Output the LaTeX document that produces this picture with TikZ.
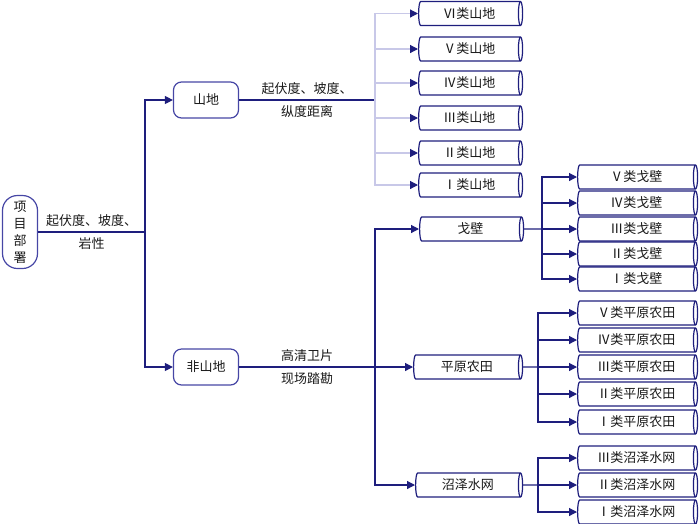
\documentclass[tikz,border=0pt]{standalone}
\usepackage{fontspec}
\setmainfont{Noto Sans CJK SC}
\usetikzlibrary{shapes.geometric,arrows.meta}
\definecolor{navyline}{RGB}{30,30,125}
\definecolor{paleline}{RGB}{200,200,232}
\definecolor{boxedge}{RGB}{70,70,165}
\definecolor{txt}{RGB}{25,25,25}
\tikzset{
  roundbox/.style={draw=boxedge, line width=1.2pt, rounded corners=8pt, minimum width=65pt,
    minimum height=36pt, text=txt, font=\fontsize{13}{16}\selectfont},
  tube/.style={cylinder, draw=navyline, line width=1.2pt, shape aspect=0.35, anchor=west,
    minimum width=24pt, minimum height=104pt, inner sep=0pt, text=txt,
    font=\fontsize{13}{16}\selectfont},
  subtube/.style={tube, minimum height=120pt},
  link/.style={draw=navyline, line width=1.2pt},
  palelink/.style={draw=paleline, line width=1.2pt},
  navyarrow/.style={-{Triangle[length=8pt,width=8pt,color=navyline]}},
  lbl/.style={align=center, text=txt, font=\fontsize{13}{23}\selectfont}
}
\begin{document}
\begin{tikzpicture}[x=1pt, y=-1pt]
  \useasboundingbox (0,0) rectangle (700,523);
  % root and first split
  \node[roundbox, rounded corners=15pt, minimum width=35pt, minimum height=73pt,
    align=center, font=\fontsize{13}{17}\selectfont] (proj) at (20,232)
    {项\\目\\部\\署};
  \coordinate (ja) at (145,232);
  \node[roundbox] (shan) at (206,100) {山地};
  \node[roundbox] (feishan) at (206,367) {非山地};
  \draw[link] (proj.east) -- node[lbl]{起伏度、坡度、\\岩性} (ja);
  \draw[link, navyarrow] (ja) |- (shan);
  \draw[link, navyarrow] (ja) |- (feishan);
  % mountain classes
  \coordinate (jb) at (375,100);
  \node[tube] (sd6) at (418,13.5) {Ⅵ类山地};
  \node[tube] (sd5) at (418,49) {Ⅴ类山地};
  \node[tube] (sd4) at (418,83) {Ⅳ类山地};
  \node[tube] (sd3) at (418,118) {Ⅲ类山地};
  \node[tube] (sd2) at (418,153) {Ⅱ类山地};
  \node[tube] (sd1) at (418,185) {Ⅰ类山地};
  \draw[link] (shan) -- node[lbl]{起伏度、坡度、\\纵度距离} (jb);
  \draw[palelink, navyarrow] (jb) |- (sd6);
  \draw[palelink, navyarrow] (jb) |- (sd5);
  \draw[palelink, navyarrow] (jb) |- (sd4);
  \draw[palelink, navyarrow] (jb) |- (sd3);
  \draw[palelink, navyarrow] (jb) |- (sd2);
  \draw[palelink, navyarrow] (jb) |- (sd1);
  % non-mountain classes
  \coordinate (jc) at (375,367);
  \node[tube] (gebi) at (419,229) {戈壁};
  \node[tube, minimum height=109pt] (pingyuan) at (413,367) {平原农田};
  \node[tube, minimum height=107pt] (zhaoze) at (415,485) {沼泽水网};
  \draw[link] (feishan) -- node[lbl]{高清卫片\\现场踏勘} (jc);
  \draw[link, navyarrow] (jc) -- (pingyuan);
  \draw[link, navyarrow] (jc) |- (gebi);
  \draw[link, navyarrow] (jc) |- (zhaoze);
  % gobi
  \coordinate (jd) at (542,229);
  \node[subtube] (gb5) at (577,177) {Ⅴ类戈壁};
  \node[subtube] (gb4) at (577,203) {Ⅳ类戈壁};
  \node[subtube] (gb3) at (577,229) {Ⅲ类戈壁};
  \node[subtube] (gb2) at (577,254) {Ⅱ类戈壁};
  \node[subtube] (gb1) at (577,279) {Ⅰ类戈壁};
  \draw[link] (gebi.east) -- (jd);
  \draw[link, navyarrow] (jd) |- (gb5);
  \draw[link, navyarrow] (jd) |- (gb4);
  \draw[link, navyarrow] (jd) -- (gb3);
  \draw[link, navyarrow] (jd) |- (gb2);
  \draw[link, navyarrow] (jd) |- (gb1);
  % plain farmland
  \coordinate (je) at (538,367);
  \node[subtube] (py5) at (577,313) {Ⅴ类平原农田};
  \node[subtube] (py4) at (577,340) {Ⅳ类平原农田};
  \node[subtube] (py3) at (577,367) {Ⅲ类平原农田};
  \node[subtube] (py2) at (577,394) {Ⅱ类平原农田};
  \node[subtube] (py1) at (577,422) {Ⅰ类平原农田};
  \draw[link] (pingyuan.east) -- (je);
  \draw[link, navyarrow] (je) |- (py5);
  \draw[link, navyarrow] (je) |- (py4);
  \draw[link, navyarrow] (je) -- (py3);
  \draw[link, navyarrow] (je) |- (py2);
  \draw[link, navyarrow] (je) |- (py1);
  % marsh
  \coordinate (jf) at (538,485);
  \node[subtube] (zz3) at (577,458) {Ⅲ类沼泽水网};
  \node[subtube] (zz2) at (577,485) {Ⅱ类沼泽水网};
  \node[subtube] (zz1) at (577,512) {Ⅰ类沼泽水网};
  \draw[link] (zhaoze.east) -- (jf);
  \draw[link, navyarrow] (jf) |- (zz3);
  \draw[link, navyarrow] (jf) -- (zz2);
  \draw[link, navyarrow] (jf) |- (zz1);
\end{tikzpicture}
\end{document}
